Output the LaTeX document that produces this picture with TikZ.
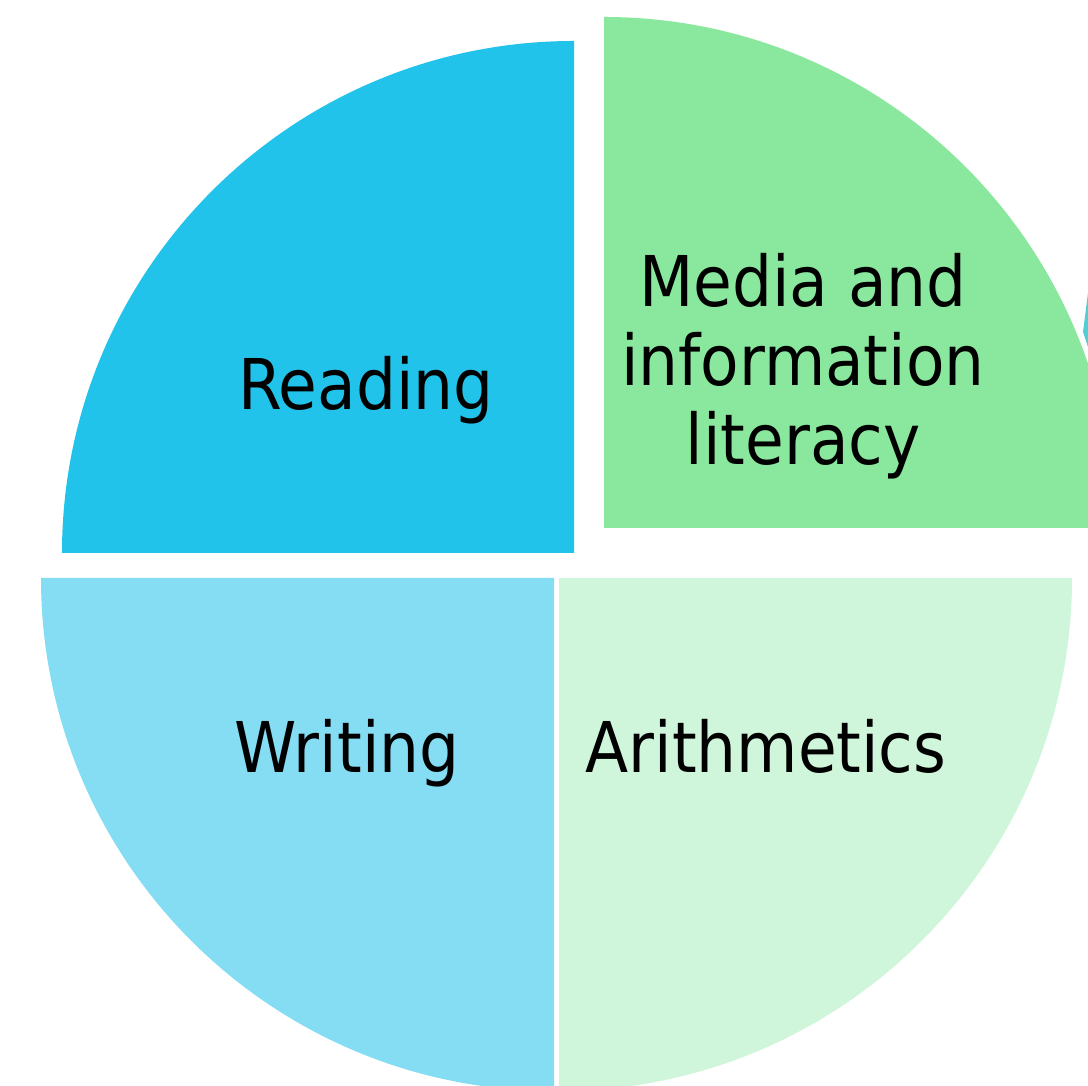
\documentclass[tikz,border=0pt]{standalone}
\usepackage{fontspec}
\setmainfont{DejaVu Sans Condensed}
\definecolor{cRead}{HTML}{22C3EA}
\definecolor{cMedia}{HTML}{8AE89E}
\definecolor{cWrite}{HTML}{84DDF2}
\definecolor{cArith}{HTML}{CFF5DA}
\definecolor{cTeal}{HTML}{4ECFD6}
\begin{document}
\begin{tikzpicture}[x=1pt,y=1pt,
  lbl/.style={inner sep=0pt,font=\fontsize{70}{79}\selectfont,text=black,align=center}]
\useasboundingbox (0,0) rectangle (1088,1086);
\clip (0,0) rectangle (1088,1086);
\fill[white] (0,0) rectangle (1088,1086);
% Reading
\fill[cRead] (574,533) -- (62,533) arc[start angle=180,end angle=90,radius=512] -- cycle;
% Media
\fill[cMedia] (604,558) -- (604,1069) arc[start angle=90,end angle=0,radius=511] -- cycle;
% partial teal piece at right edge
\fill[cTeal] (1088,793) -- (1083,754) -- (1088,739) -- cycle;
% Writing
\fill[cWrite] (554,508) -- (41,508) arc[start angle=180,end angle=270,radius=513] -- cycle;
% Arithmetics
\fill[cArith] (559,508) -- (1072,508) arc[start angle=0,end angle=-90,radius=513] -- cycle;
% labels
\node[lbl,anchor=base] (read) at (366,676) {Reading};
\node[lbl,anchor=center] (media) at (803,720) {Media and\\information\\literacy};
\node[lbl,anchor=base] (write) at (347,313) {Writing};
\node[lbl,anchor=base] (arith) at (766,313) {Arithmetics};
\end{tikzpicture}
\end{document}
